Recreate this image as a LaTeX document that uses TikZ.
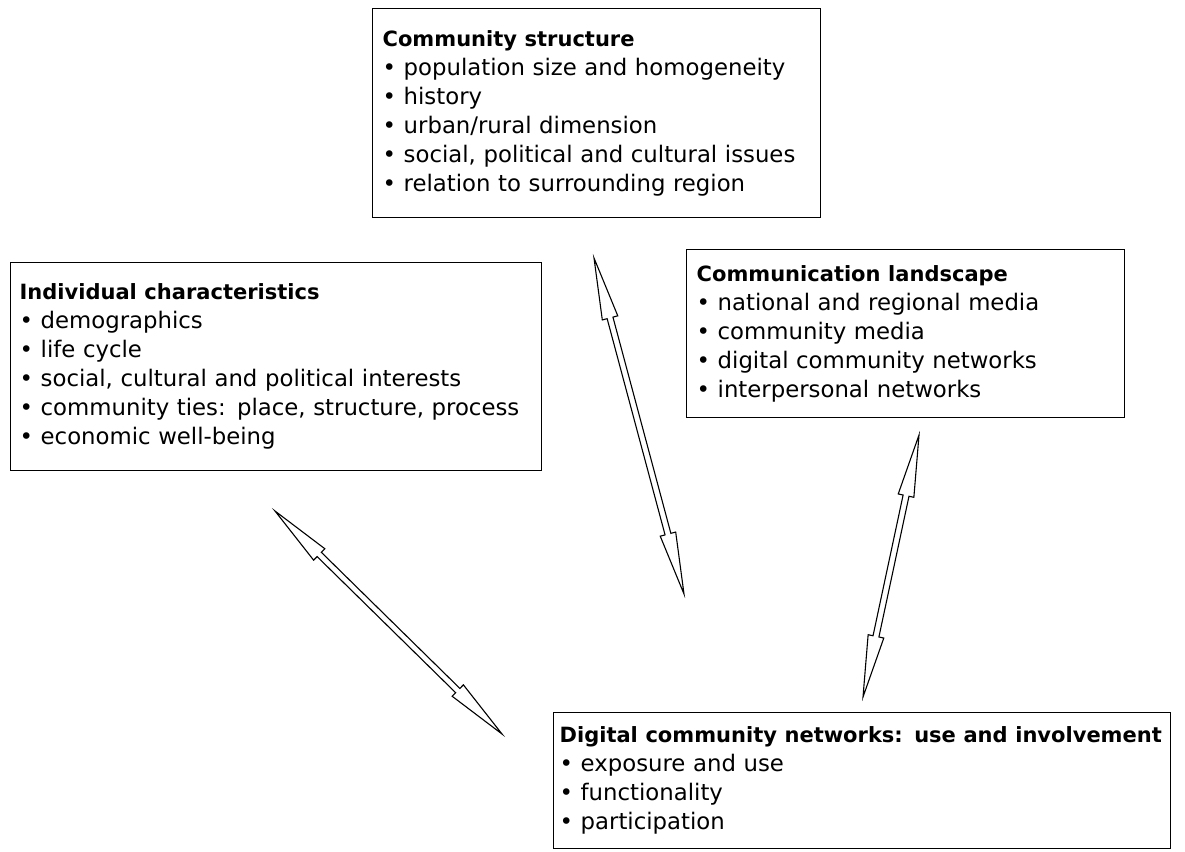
\documentclass[tikz,border=0pt]{standalone}
\usepackage{fontspec}
\setmainfont{DejaVu Sans}
\usetikzlibrary{calc}
\tikzset{
  infobox/.style={draw, line width=1.3pt, anchor=north west, align=left,
    inner xsep=10pt, inner ysep=0pt,
    font=\fontsize{22.8}{29}\selectfont},
  arrowline/.style={draw, line width=1.1pt, line join=miter},
}
\newcommand\boxtitle[1]{{\fontsize{21}{29}\selectfont\bfseries #1}}
\newcommand\hollowarrow[2]{%
  \coordinate (h1) at ($(#1)!62pt!(#2)$);
  \coordinate (h2) at ($(#2)!62pt!(#1)$);
  \draw[arrowline] (#1) -- ($(h1)!8pt!90:(#2)$) -- ($(h1)!3pt!90:(#2)$)
    -- ($(h2)!3pt!-90:(#1)$) -- ($(h2)!8pt!-90:(#1)$) -- (#2)
    -- ($(h2)!8pt!90:(#1)$) -- ($(h2)!3pt!90:(#1)$)
    -- ($(h1)!3pt!-90:(#2)$) -- ($(h1)!8pt!-90:(#2)$) -- cycle;}
\begin{document}
\begin{tikzpicture}[x=1pt,y=-1pt]
\useasboundingbox (0,0) rectangle (1185,851);

\node[infobox, minimum width=448pt, minimum height=209pt, text width=428pt] (cs) at (372,8)
 {\boxtitle{Community structure}\\
  • population size and homogeneity\\
  • history\\
  • urban/rural dimension\\
  • social, political and cultural issues\\
  • relation to surrounding region};

\node[infobox, minimum width=531pt, minimum height=208pt, text width=513pt, inner xsep=9pt] (ic) at (10,262)
 {\boxtitle{Individual characteristics}\\
  • demographics\\
  • life cycle\\
  • social, cultural and political interests\\
  • community ties: place, structure, process\\
  • economic well-being};

\node[infobox, minimum width=438pt, minimum height=168pt, text width=418pt] (cl) at (686,249)
 {\boxtitle{Communication landscape}\\
  • national and regional media\\
  • community media\\
  • digital community networks\\
  • interpersonal networks};

\node[infobox, minimum width=617pt, minimum height=136pt, text width=605pt, inner xsep=6pt] (dg) at (553,712)
 {\boxtitle{Digital community networks: use and involvement}\\
  • exposure and use\\
  • functionality\\
  • participation};

\coordinate (a1s) at (275,511);
\coordinate (a1e) at (502,734);
\coordinate (a2s) at (594,258);
\coordinate (a2e) at (684,594);
\coordinate (a3s) at (919,435);
\coordinate (a3e) at (863,697);

\hollowarrow{a1s}{a1e}
\hollowarrow{a2s}{a2e}
\hollowarrow{a3s}{a3e}
\end{tikzpicture}
\end{document}
